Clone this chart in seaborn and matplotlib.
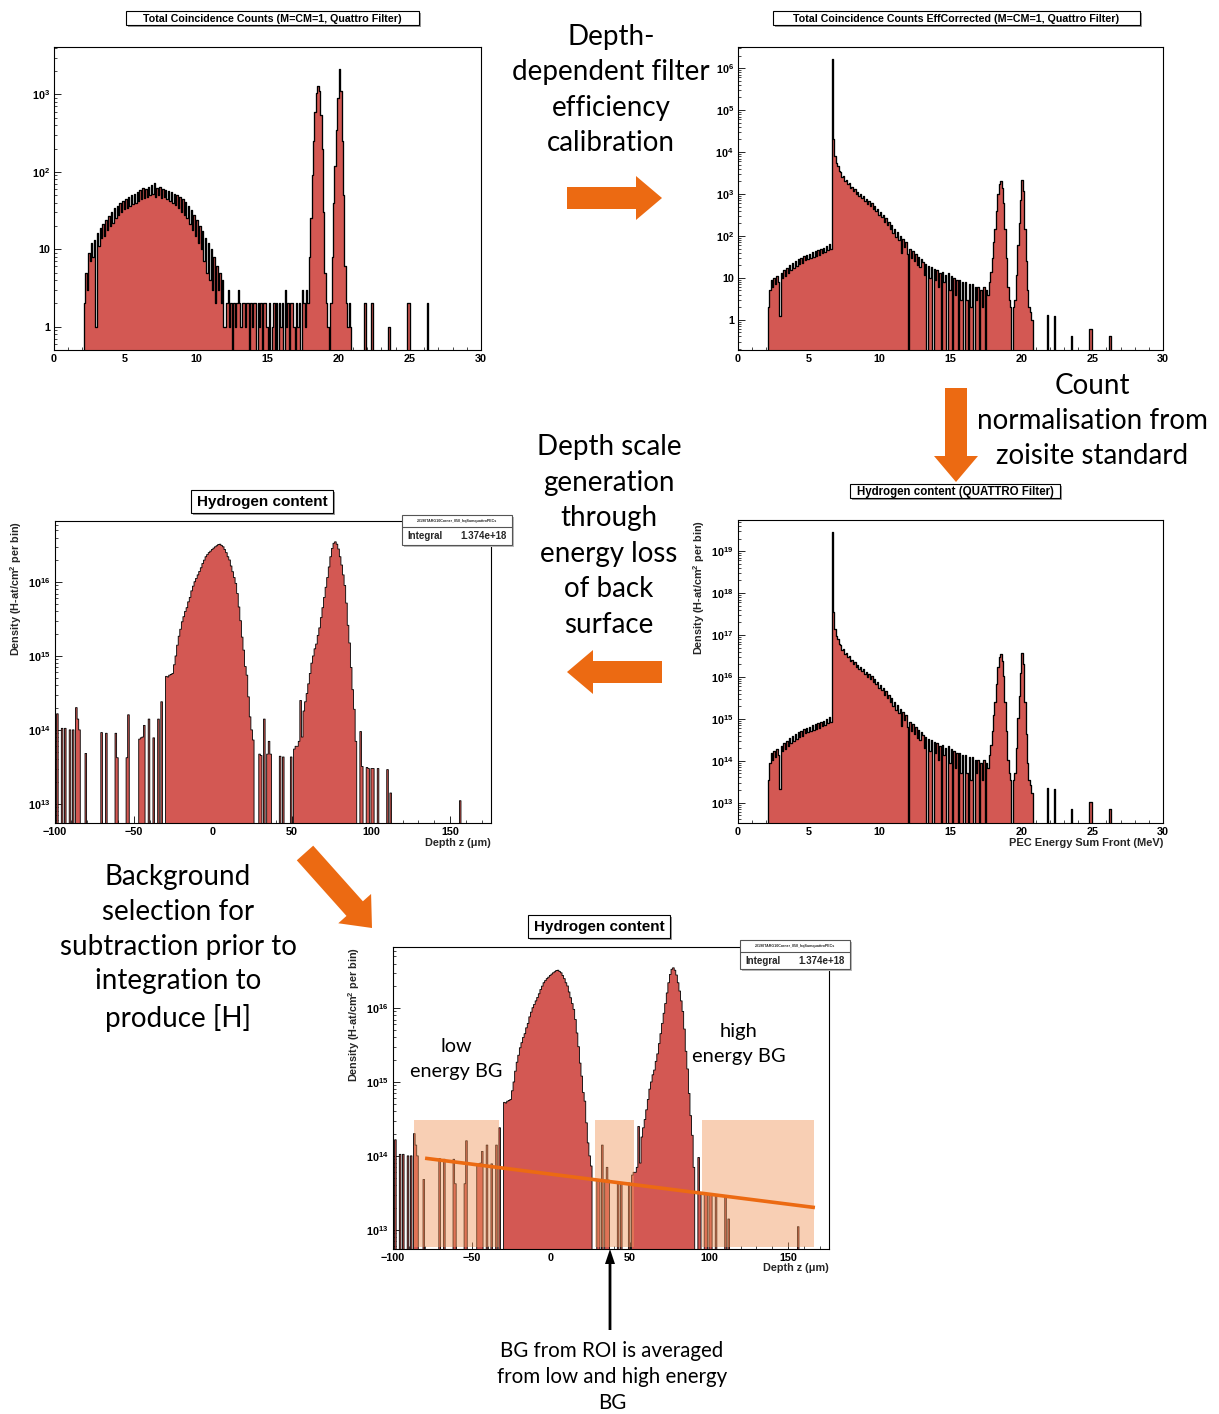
import numpy as np
import pandas as pd
import matplotlib
matplotlib.use("Agg")
import matplotlib.pyplot as plt
import matplotlib.ticker as mticker
from matplotlib.patches import Rectangle, FancyArrow
import seaborn as sns

sns.set_theme(style="white")
plt.rcParams["font.family"] = ["Liberation Sans", "DejaVu Sans"]
plt.rcParams["font.weight"] = "bold"
plt.rcParams["mathtext.fontset"] = "custom"
plt.rcParams["mathtext.rm"] = "Liberation Sans:bold"
plt.rcParams["mathtext.it"] = "Liberation Sans:bold"
plt.rcParams["mathtext.bf"] = "Liberation Sans:bold"

# ---------------------------------------------------------------- data
# PEC energy spectra, 0.1 MeV bins starting at 2.0 MeV (one row per MeV)
energy_start = 2.0
energy_bin = 0.1

raw_counts = [
    0, 2, 5, 3, 9, 7, 12, 8, 13, 1,                          # 2 MeV
    16, 11, 19, 14, 21, 15, 24, 18, 27, 20,                  # 3
    30, 22, 34, 25, 36, 28, 40, 30, 42, 33,                  # 4
    45, 34, 48, 36, 50, 38, 52, 40, 55, 42,                  # 5
    58, 44, 62, 46, 60, 48, 64, 50, 68, 52,                  # 6
    72, 48, 62, 50, 64, 46, 60, 48, 58, 44,                  # 7
    56, 42, 55, 40, 52, 37, 50, 34, 47, 30,                  # 8
    44, 28, 41, 25, 36, 21, 32, 18, 28, 15,                  # 9
    24, 12, 20, 10, 17, 7, 14, 5, 12, 4,                     # 10
    10, 3, 8, 2, 6, 3, 5, 2, 4, 1,                           # 11
    1, 2, 3, 1, 2, 0, 2, 1, 2, 3,                            # 12
    2, 1, 2, 2, 1, 2, 2, 0, 2, 1,                            # 13
    2, 2, 0, 2, 1, 2, 0, 2, 2, 1,                            # 14
    0, 2, 0, 1, 2, 0, 2, 0, 2, 1,                            # 15
    2, 0, 3, 1, 2, 0, 2, 2, 1, 0,                            # 16
    2, 1, 2, 0, 3, 2, 1, 3, 2, 8,                            # 17
    25, 90, 250, 600, 1050, 1290, 1100, 550, 200, 30,        # 18
    5, 2, 1, 0, 2, 8, 40, 120, 350, 900,                     # 19
    2100, 1100, 250, 50, 6, 2, 1, 2, 1, 0,                   # 20
    0, 0, 0, 0, 0, 0, 0, 0, 2, 0,                            # 21
    0, 0, 0, 2, 0, 0, 0, 0, 0, 0,                            # 22
    0, 0, 0, 0, 0, 1, 0, 0, 0, 0,                            # 23
    0, 0, 0, 0, 0, 0, 0, 0, 2, 2,                            # 24
    0, 0, 0, 0, 0, 0, 0, 0, 0, 0,                            # 25
    0, 0, 2, 0, 0, 0, 0, 0, 0, 0,                            # 26
]

eff_corrected_counts = [
    0, 2, 5, 9, 6, 10, 7, 11, 8, 1.2,                        # 2 MeV
    13, 10, 15, 11, 17, 13, 20, 15, 22, 17,                  # 3
    25, 19, 28, 21, 30, 23, 33, 26, 36, 28,                  # 4
    38, 30, 41, 32, 43, 34, 46, 36, 50, 39,                  # 5
    52, 42, 57, 45, 65, 50, 1.7e6, 2.0e4, 8000, 5500,        # 6
    4600, 3500, 3300, 2600, 2650, 2050, 2200, 1700, 1800, 1400,  # 7
    1450, 1150, 1280, 1000, 1130, 880, 1000, 780, 880, 690,  # 8
    760, 590, 680, 510, 600, 450, 520, 390, 450, 320,        # 9
    380, 280, 320, 220, 270, 180, 220, 150, 185, 120,        # 10
    150, 95, 125, 80, 100, 40, 85, 55, 70, 38,               # 11
    0, 48, 30, 44, 25, 38, 20, 32, 18, 28,                   # 12
    24, 12, 21, 0, 19, 10, 18, 0, 16, 9,                     # 13
    15, 6, 13, 0, 14, 8, 12, 0, 13, 5,                       # 14
    11, 0, 10, 4, 9, 0, 9, 3, 8, 0,                          # 15
    8, 3, 0, 7, 2, 7, 0, 6, 3, 6,                            # 16
    0, 5, 2, 6, 0, 5, 4, 8, 14, 30,                          # 17
    70, 150, 400, 1000, 1700, 2080, 1400, 600, 150, 30,      # 18
    6, 3, 2, 0, 2, 3, 12, 60, 200, 700,                      # 19
    2150, 1200, 150, 25, 5, 2, 1.5, 1, 0, 0,                 # 20
    0, 0, 0, 0, 0, 0, 0, 0, 1.3, 0,                          # 21
    0, 0, 0, 1.2, 0, 0, 0, 0, 0, 0,                          # 22
    0, 0, 0, 0, 0, 0.4, 0, 0, 0, 0,                          # 23
    0, 0, 0, 0, 0, 0, 0, 0, 0.6, 0.6,                        # 24
    0, 0, 0, 0, 0, 0, 0, 0, 0, 0,                            # 25
    0, 0, 0.4, 0, 0, 0, 0, 0, 0, 0,                          # 26
]

# H-at/cm^2 per count from the zoisite standard
zoisite_norm = 1.73e13

# depth profile, 1 um bins, densities in units of 1e13 H-at/cm^2
density_unit = 1e13
depth_range = (-100, 176)
depth_bg_z = [-99, -96, -94, -91, -89, -87, -86, -85, -81, -71, -68, -62,
              -61, -55, -54, -47, -46, -45, -44, -41, -38, -35, -33,
              29, 30, 32, 34, 35, 36, 42, 44, 49, 51, 52,
              93, 94, 97, 98, 100, 101, 104, 110, 112, 156]
depth_bg_density = [16.5, 10.5, 10.5, 10, 10, 20, 14, 10, 4.8, 9.2, 9, 9,
                    4.2, 4.2, 16, 7.5, 7.8, 8, 11.5, 14, 7.8, 14, 24,
                    4.7, 4.5, 14, 4.7, 7, 4.7, 4.4, 4.3, 4.3, 5.5, 6,
                    9.5, 3.2, 3.1, 3.0, 3.0, 3.0, 3.0, 2.9, 1.4, 1.1]
front_peak_start = -30
front_peak_density = [
    53, 52, 55, 56, 58, 76, 100, 140, 185, 230,
    290, 340, 400, 450, 540, 620, 760, 880, 1010, 1120,
    1250, 1390, 1560, 1780, 1980, 2200, 2350, 2500, 2620, 2760,
    2880, 3000, 3100, 3220, 3250, 3120, 3000, 2750, 2500, 2200,
    1990, 1650, 1380, 1150, 960, 700, 460, 300, 180, 120,
    72, 55, 28, 15, 10, 7.3]
back_peak_start = 53
back_peak_density = [
    6, 7, 25, 8, 18, 24, 31, 42, 58, 80,
    100, 125, 145, 190, 240, 330, 450, 620, 850, 1150,
    1600, 2200, 2850, 3350, 3500, 3250, 2800, 2200, 1700, 1250,
    900, 520, 260, 150, 70, 35, 19, 7]
integral_text = "1.374e+18"
stat_name = "20190TARG10Corner_050_hqSumquattroPECs"

# background regions of interest and the fitted background line
roi_spans = [(-86.7, -32.9), (27.8, 52.7), (95.4, 166.7)]
roi_top = 3.06e14
bg_fit_z = [-79.7, 167.1]
bg_fit_density = [9.3e13, 2.0e13]

# ---------------------------------------------------------------- style
W, H = 1219, 1414
HIST_RED = "#d35853"
ORANGE = "#ec6a12"
ANNOT_FONT = ["Lato", "DejaVu Sans"]

fig = plt.figure(figsize=(W / 100, H / 100), dpi=100)
fig.patch.set_facecolor("white")


def px_axes(left, top, right, bottom):
    return fig.add_axes([left / W, 1 - bottom / H, (right - left) / W, (bottom - top) / H])


def draw_hist(ax, edges, values, lw=0.6):
    edges = np.asarray(edges, dtype=float)
    centers = 0.5 * (edges[:-1] + edges[1:])
    df = pd.DataFrame({"x": centers, "w": np.asarray(values, dtype=float)})
    sns.histplot(data=df, x="x", weights="w", bins=edges.tolist(), element="step",
                 fill=True, color=HIST_RED, edgecolor="black", linewidth=lw,
                 alpha=1, ax=ax)


def style_root(ax, xlim, ylim, xmajor, xminor, yticks, ylabels):
    ax.set_yscale("log")
    ax.set_xlim(*xlim)
    ax.set_ylim(*ylim)
    ax.xaxis.set_major_locator(mticker.MultipleLocator(xmajor))
    ax.xaxis.set_minor_locator(mticker.MultipleLocator(xminor))
    ax.yaxis.set_major_locator(mticker.FixedLocator(yticks))
    ax.yaxis.set_major_formatter(mticker.FixedFormatter(ylabels))
    ax.yaxis.set_minor_locator(mticker.LogLocator(base=10, subs=np.arange(2, 10), numticks=60))
    ax.yaxis.set_minor_formatter(mticker.NullFormatter())
    ax.tick_params(which="both", direction="in", top=False, right=False,
                   bottom=True, left=True, colors="black")
    ax.tick_params(which="major", length=5, width=0.6, labelsize=7.8, pad=3)
    ax.tick_params(which="minor", length=2.5, width=0.5)
    for s in ax.spines.values():
        s.set_visible(True)
        s.set_color("black")
        s.set_linewidth(0.8)
    ax.set_xlabel("")
    ax.set_ylabel("")
    ax.grid(False)
    ax.set_facecolor("white")


def sup_labels(exps):
    out = []
    for e in exps:
        if e == 0:
            out.append("1")
        elif e == 1:
            out.append("10")
        else:
            out.append(r"$10^{%d}$" % e)
    return out


n_e = len(raw_counts)
energy_edges = energy_start + energy_bin * np.arange(n_e + 1)
hydrogen_vs_energy = np.asarray(eff_corrected_counts) * zoisite_norm

depth_edges = np.arange(depth_range[0], depth_range[1] + 1)
depth_density = np.zeros(len(depth_edges) - 1)
for z, v in zip(depth_bg_z, depth_bg_density):
    depth_density[z - depth_range[0]] = v
for start, peak in ((front_peak_start, front_peak_density), (back_peak_start, back_peak_density)):
    i0 = start - depth_range[0]
    depth_density[i0:i0 + len(peak)] = peak
depth_density = depth_density * density_unit

# ---------------------------------------------------------------- panels
ax1 = px_axes(54, 47, 481, 350)
draw_hist(ax1, energy_edges, raw_counts, lw=0.95)
style_root(ax1, (0, 30), (0.5, 4100), 5, 1, [1, 10, 100, 1000], sup_labels([0, 1, 2, 3]))

ax2 = px_axes(738, 47, 1163, 350)
draw_hist(ax2, energy_edges, eff_corrected_counts, lw=0.95)
style_root(ax2, (0, 30), (0.19, 3.2e6), 5, 1, [10.0 ** e for e in range(0, 7)],
           sup_labels(range(0, 7)))

ax4 = px_axes(738, 520, 1163, 823)
draw_hist(ax4, energy_edges, hydrogen_vs_energy, lw=0.95)
style_root(ax4, (0, 30), (0.19 * zoisite_norm, 3.2e6 * zoisite_norm), 5, 1,
           [10.0 ** e for e in range(13, 20)], sup_labels(range(13, 20)))

ax3 = px_axes(55, 521, 491, 823)
draw_hist(ax3, depth_edges, depth_density)
style_root(ax3, depth_range, (5.5e12, 6.7e16), 50, 10,
           [10.0 ** e for e in range(13, 17)], sup_labels(range(13, 17)))

ax5 = px_axes(393, 947, 829, 1249)
draw_hist(ax5, depth_edges, depth_density)
style_root(ax5, depth_range, (5.5e12, 6.7e16), 50, 10,
           [10.0 ** e for e in range(13, 17)], sup_labels(range(13, 17)))
for z0, z1 in roi_spans:
    ax5.add_patch(Rectangle((z0, 5.8e12), z1 - z0, roi_top - 5.8e12,
                            facecolor="#f0965a", alpha=0.45, edgecolor="none", zorder=3))
ax5.plot(bg_fit_z, bg_fit_density, color=ORANGE, lw=2.6, zorder=4, solid_capstyle="butt")

# ---------------------------------------------------------------- overlay
ov = fig.add_axes([0, 0, 1, 1], zorder=20)
ov.set_xlim(0, W)
ov.set_ylim(H, 0)
ov.axis("off")
ov.patch.set_alpha(0)


def title_box(x0, x1, y0, y1, text, size):
    ov.add_patch(Rectangle((x0 + 1.5, y0 + 1.5), x1 - x0, y1 - y0,
                           facecolor="#9a9a9a", edgecolor="none"))
    ov.add_patch(Rectangle((x0, y0), x1 - x0, y1 - y0, facecolor="white",
                           edgecolor="black", lw=0.8))
    ov.text((x0 + x1) / 2, (y0 + y1) / 2 + 0.5, text, ha="center", va="center",
            fontsize=size, fontweight="bold", color="black")


def stat_box(x0, x1, y0, ymid, y1):
    ov.add_patch(Rectangle((x0 + 1.5, y0 + 1.5), x1 - x0, y1 - y0,
                           facecolor="#bbbbbb", edgecolor="none"))
    ov.add_patch(Rectangle((x0, y0), x1 - x0, y1 - y0, facecolor="white",
                           edgecolor="#555555", lw=0.8))
    ov.plot([x0, x1], [ymid, ymid], color="#555555", lw=0.8)
    ov.text((x0 + x1) / 2, (y0 + ymid) / 2, stat_name, ha="center", va="center",
            fontsize=2.6, fontweight="bold")
    ov.text(x0 + 5, (ymid + y1) / 2, "Integral", ha="left", va="center",
            fontsize=7, fontweight="bold")
    ov.text(x1 - 5, (ymid + y1) / 2, integral_text, ha="right", va="center",
            fontsize=7, fontweight="bold")


title_box(126, 419, 11, 25, "Total Coincidence Counts (M=CM=1, Quattro Filter)", 7.7)
title_box(773, 1140, 11, 25, "Total Coincidence Counts EffCorrected (M=CM=1, Quattro Filter)", 7.7)
title_box(191, 333, 490, 513, "Hydrogen content", 11)
title_box(850, 1060, 484, 498, "Hydrogen content (QUATTRO Filter)", 8.3)
title_box(528, 670, 915, 938, "Hydrogen content", 11)
stat_box(402, 512, 515, 527, 545)
stat_box(740, 850, 940, 952, 969)

ylab = r"Density (H-at/cm$^{2}$ per bin)"
for x, y in ((16, 521), (699, 520), (354, 947)):
    ov.text(x, y, ylab, rotation=90, ha="center", va="top", fontsize=7.8, fontweight="bold")
ov.text(491, 843, "Depth z (\u03bcm)", ha="right", va="center", fontsize=7.8, fontweight="bold")
ov.text(829, 1268, "Depth z (\u03bcm)", ha="right", va="center", fontsize=7.8, fontweight="bold")
ov.text(1163, 843, "PEC Energy Sum Front (MeV)", ha="right", va="center", fontsize=7.9,
        fontweight="bold")

# workflow annotations
def note(x, y, s, size=20, ls=1.45):
    ov.text(x, y, s, ha="center", va="center", fontsize=size, family=ANNOT_FONT,
            fontweight="normal", linespacing=ls, multialignment="center", color="black")


note(611, 90, "Depth-\ndependent filter\nefficiency\ncalibration")
note(1092, 421, "Count\nnormalisation from\nzoisite standard")
note(609, 536, "Depth scale\ngeneration\nthrough\nenergy loss\nof back\nsurface")
note(178, 948, "Background\nselection for\nsubtraction prior to\nintegration to\nproduce [H]", ls=1.41)
note(612, 1377, "BG from ROI is averaged\nfrom low and high energy\nBG", size=14.8, ls=1.37)
note(456, 1059, "low\nenergy BG", size=14.3, ls=1.6)
note(739, 1044, "high\nenergy BG", size=14.5, ls=1.6)

arrow_kw = dict(width=22, head_width=44, head_length=26, length_includes_head=True,
                color=ORANGE, lw=0)
ov.add_patch(FancyArrow(567, 198, 95, 0, **arrow_kw))
ov.add_patch(FancyArrow(956, 388, 0, 94, **arrow_kw))
ov.add_patch(FancyArrow(662, 672, -95, 0, **arrow_kw))
ov.add_patch(FancyArrow(305, 853, 67, 75, **arrow_kw))
ov.add_patch(FancyArrow(610, 1330, 0, -81, width=2.8, head_width=10, head_length=15,
                        length_includes_head=True, color="black", lw=0))

fig.savefig("out.png", dpi=100, facecolor="white")
